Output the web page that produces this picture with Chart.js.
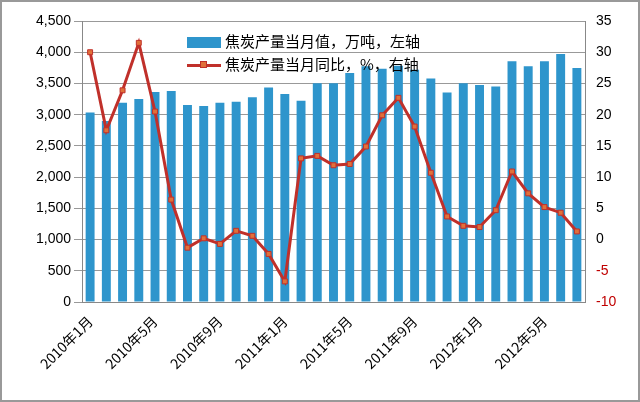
<!DOCTYPE html>
<html><head><meta charset="utf-8">
<script src="https://cdn.jsdelivr.net/npm/chart.js@4"></script>
<style>
body{margin:0;background:#fff}
#wrap{position:relative;width:636px;height:398px;border:2px solid #999;}
#legend{position:absolute;left:185px;top:27px;font:15px "Noto Sans CJK SC";color:#000;line-height:23px}
.sw{display:inline-block;width:34px;vertical-align:middle;margin-right:4px}
</style></head><body>
<div id="wrap"><canvas id="c" width="636" height="398"></canvas>
<div id="legend">
<div><span class="sw" style="height:11px;background:#2E95CC"></span>焦炭产量当月值，万吨，左轴</div>
<div><span class="sw" style="height:3px;background:#C0302A;position:relative"><span style="position:absolute;left:13px;top:-3px;width:7px;height:7px;background:#E0703A;border:1px solid #C0302A;box-sizing:border-box"></span></span>焦炭产量当月同比，%，右轴</div>
</div></div>
<script>
const months = [];
for (let y = 2010; y <= 2012; y++) for (let m = 1; m <= 12; m++) months.push(y + "年" + m + "月");
const labels = months.slice(0, 31);
const output = [3035, 2900, 3191, 3250, 3364, 3380, 3154, 3137, 3191, 3208, 3278, 3434, 3332, 3224, 3504, 3504,
  3666, 3774, 3736, 3784, 3720, 3580, 3353, 3504, 3477, 3450, 3854, 3774, 3854, 3973, 3747];
const yoy = [30.0, 17.5, 23.9, 31.5, 20.5, 6.4, -1.3, 0.2, -0.7, 1.4, 0.6, -2.3, -6.7, 13.0, 13.4, 11.9,
  12.1, 14.9, 19.9, 22.7, 18.1, 10.7, 3.7, 2.2, 2.0, 4.7, 10.9, 7.4, 5.2, 4.3, 1.3];

new Chart(document.getElementById("c"), {
  type: "bar",
  data: {
    labels: labels,
    datasets: [
      {type: "line", data: yoy, yAxisID: "y1", borderColor: "#C0302A", borderWidth: 3,
       pointStyle: "rect", pointRadius: 3.5, pointBackgroundColor: "#E0703A", pointBorderColor: "#C0302A",
       pointBorderWidth: 1, tension: 0},
      {data: output, yAxisID: "y", backgroundColor: "#2E95CC", barPercentage: 0.55, categoryPercentage: 1}
    ]
  },
  options: {
    responsive: false, animation: false,
    layout: {padding: {left: 0, right: 0, top: 19, bottom: 0}},
    plugins: {legend: {display: false}, tooltip: {enabled: false}},
    scales: {
      x: {grid: {display: false, drawTicks: true}, border: {color: "#888"},
          afterFit: s => { s.height = 98; },
          ticks: {autoSkip: false, maxRotation: 45, minRotation: 45, color: "#000",
                  font: {size: 14, family: "Noto Sans CJK SC"},
                  callback: (v, i) => i % 4 === 0 ? labels[i] : ""}},
      y: {min: 0, max: 4500, grid: {color: "#999"}, border: {color: "#888"},
          afterFit: s => { s.width = 80; },
          ticks: {stepSize: 500, color: "#000", font: {size: 14, family: "Liberation Sans"},
                  callback: v => v.toLocaleString("en-US")}},
      y1: {position: "right", min: -10, max: 35, grid: {display: false}, border: {color: "#888"},
           afterFit: s => { s.width = 53; },
           ticks: {stepSize: 5, font: {size: 14, family: "Liberation Sans"},
                   color: c => c.tick.value < 0 ? "#C00000" : "#000"}}
    }
  }
});
</script></body></html>
